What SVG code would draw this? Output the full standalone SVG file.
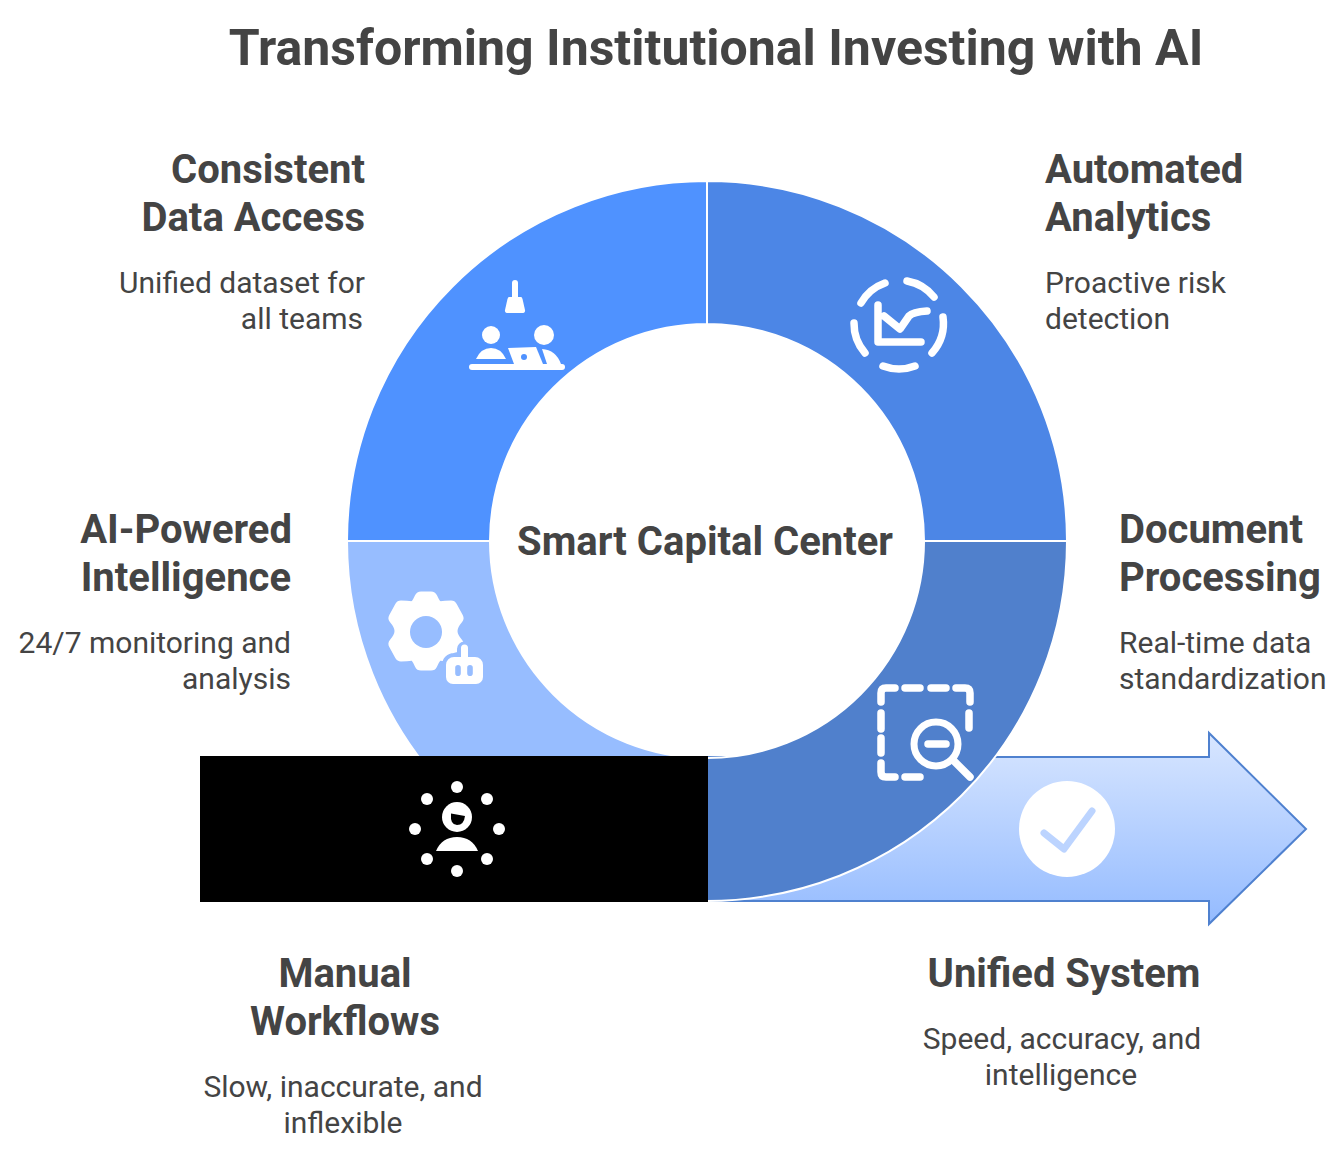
<svg xmlns="http://www.w3.org/2000/svg" width="1337" height="1150" viewBox="0 0 1337 1150">
<defs>
<linearGradient id="g" x1="0" y1="0" x2="0" y2="1"><stop offset="0" stop-color="#d8e6ff"/><stop offset="1" stop-color="#94bbff"/></linearGradient>
</defs>
<style>
text{font-family:Roboto,"Liberation Sans",sans-serif;fill:#444}
.t{font-size:40px;font-weight:700}
.d{font-size:30px;font-weight:400}
.e{text-anchor:end}
.m{text-anchor:middle}
.w{fill:#fff}
.s{fill:none;stroke:#fff;stroke-linecap:round;stroke-linejoin:round}
</style>
<rect width="1337" height="1150" fill="#fff"/>
<text x="716" y="65" class="m" style="font-size:50px;font-weight:700">Transforming Institutional Investing with AI</text>
<g id="connectors">
<path d="M707 757H1209V733L1306 829L1209 924V901H707Z" fill="url(#g)" stroke="#4f81cf" stroke-width="2"/>
</g>
<g id="node-consistent">
<path d="M707 181A360 360 0 0 0 347 541H490A217 217 0 0 1 707 324Z" fill="#4f92ff" stroke="#fff" stroke-width="2"/>
<rect class="w" x="512" y="280" width="6" height="20" rx="3"/>
<path class="w" d="M509 297H521Q522 297 522.500 299L525 310Q525.500 313 522 313H508Q504.500 313 505 310L507.500 299Q508 297 509 297Z"/>
<circle class="w" cx="491" cy="335" r="9"/><circle class="w" cx="544" cy="335" r="10"/>
<path class="w" d="M476 359Q481 348 491 348Q501 348 506 359Z"/>
<path class="w" d="M508 348L536 347L543 364H514Z"/>
<circle cx="524" cy="357" r="3" fill="#4f92ff"/>
<path class="w" d="M542 349Q556 350 561 364H547Z"/>
<path class="s" stroke-width="6" d="M472 367H562"/>
</g>
<g id="node-automated">
<path d="M707 181A360 360 0 0 1 1067 541H924A217 217 0 0 0 707 324Z" fill="#4c86e6" stroke="#fff" stroke-width="2"/>
<path class="s" stroke-width="7.500" d="M861 303A45 45 0 0 1 885 283M907 281A45 45 0 0 1 934 297M943 317A45 45 0 0 1 932 353M883 366A45 45 0 0 0 915 366M854 323A45 45 0 0 0 865 353"/>
<path class="s" stroke-width="7.500" d="M878 305V342H921M884 316L900 329L909 316Q913 312 927 311"/>
</g>
<g id="node-document">
<path d="M1067 541A360 360 0 0 1 707 901V758A217 217 0 0 0 924 541Z" fill="#5080cc" stroke="#fff" stroke-width="2"/>
<path class="s" stroke-width="7.500" d="M881 702V693Q881 688 886 688H895M905 688H920M931 688H946M956 688H965Q970 688 970 693V702M969 713V728M881 713V729M881 738V753M881 763V772Q881 777 886 777H895M905 777H920"/>
<circle cx="936" cy="744" r="22" fill="none" stroke="#fff" stroke-width="7"/>
<path class="s" stroke-width="7.500" d="M928 744H946M953 760L970 777"/>
</g>
<g id="node-ai">
<path d="M347 541A360 360 0 0 0 707 901V758A217 217 0 0 1 490 541Z" fill="#97bdff" stroke="#fff" stroke-width="2"/>
<path class="w" stroke="#fff" stroke-width="13" stroke-linejoin="round" transform="translate(426 631)" d="M-5-33L5-33Q9-24 13-23Q20-24 25-24L31-13Q25-6 25 0Q25 6 31 13L25 24Q20 24 13 23Q9 24 5 33L-5 33Q-9 24-13 23Q-20 24-25 24L-31 13Q-25 6-25 0Q-25-6-31-13L-25-24Q-20-24-13-23Q-9-24-5-33Z"/>
<circle cx="426" cy="632" r="16" fill="#97bdff"/>
<path fill="#97bdff" stroke="#97bdff" stroke-width="8" stroke-linejoin="round" d="M461 655V649a3.500 3.500 0 0 1 7 0v8h7a8 8 0 0 1 8 8v12a7 7 0 0 1-7 7H453a7 7 0 0 1-7-7v-12a8 8 0 0 1 8-8Z"/>
<path class="w" fill-rule="evenodd" d="M461 657V648a3.500 3.500 0 0 1 7 0v9h7a8 8 0 0 1 8 8v12a7 7 0 0 1-7 7H453a7 7 0 0 1-7-7v-12a8 8 0 0 1 8-8ZM458 665a2.800 2.800 0 0 0-2.800 2.800v5.400a2.800 2.800 0 0 0 5.600 0v-5.400a2.800 2.800 0 0 0-2.800-2.800ZM470 665a2.800 2.800 0 0 0-2.800 2.800v5.400a2.800 2.800 0 0 0 5.600 0v-5.400a2.800 2.800 0 0 0-2.800-2.800Z"/>
</g>
<g id="node-manual">
<rect x="200" y="756" width="508" height="146" fill="#000"/>
<g class="w"><circle cx="457" cy="787" r="6"/><circle cx="487" cy="799" r="6"/><circle cx="499" cy="829" r="6"/><circle cx="487" cy="859" r="6"/><circle cx="457" cy="871" r="6"/><circle cx="427" cy="859" r="6"/><circle cx="415" cy="829" r="6"/><circle cx="427" cy="799" r="6"/></g>
<circle class="w" cx="457" cy="817" r="15"/>
<path d="M451 813.500L465 816Q464 825 457 825Q450 825 451 813.500Z" fill="#000"/>
<path class="w" d="M436 851Q442 837 457 837Q472 837 478 851Z"/>
</g>
<g id="node-unified">
<circle class="w" cx="1067" cy="829" r="48"/>
<path fill="none" stroke="#bcd4ff" stroke-width="7" stroke-linecap="round" stroke-linejoin="round" d="M1044 833L1064 849L1092 811"/>
</g>
<g id="center"><text x="705" y="555" class="m" style="font-size:40px;font-weight:700">Smart Capital Center</text></g>
<g id="labels">
<text x="365" y="183" class="t e">Consistent</text><text x="365" y="231" class="t e">Data Access</text>
<text x="365" y="293" class="d e">Unified dataset for</text><text x="363" y="329" class="d e">all teams</text>
<text x="1045" y="183" class="t">Automated</text><text x="1045" y="231" class="t">Analytics</text>
<text x="1045" y="293" class="d">Proactive risk</text><text x="1045" y="329" class="d">detection</text>
<text x="292" y="543" class="t e">AI-Powered</text><text x="291" y="591" class="t e">Intelligence</text>
<text x="291" y="653" class="d e">24/7 monitoring and</text><text x="291" y="689" class="d e">analysis</text>
<text x="1119" y="543" class="t">Document</text><text x="1119" y="591" class="t">Processing</text>
<text x="1119" y="653" class="d">Real-time data</text><text x="1119" y="689" class="d">standardization</text>
<text x="345" y="987" class="t m">Manual</text><text x="345" y="1035" class="t m">Workflows</text>
<text x="343" y="1097" class="d m">Slow, inaccurate, and</text><text x="343" y="1133" class="d m">inflexible</text>
<text x="1064" y="987" class="t m">Unified System</text>
<text x="1062" y="1049" class="d m">Speed, accuracy, and</text><text x="1061" y="1085" class="d m">intelligence</text>
</g>
</svg>
